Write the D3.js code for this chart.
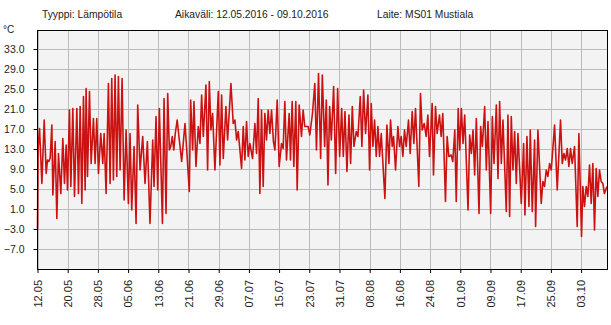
<!DOCTYPE html>
<html>
<head>
<meta charset="utf-8">
<script src="https://cdn.jsdelivr.net/npm/d3@7"></script>
<style>
  body { margin: 0; background: #fff; }
  svg { display: block; font-family: "Liberation Sans", Arial, sans-serif; }
</style>
</head>
<body>
<div id="chart"></div>
<script>
// Day offsets from 12.05.2016 00:00 and the temperature read at that moment
const dayOffsets = [
  0.0, 0.15, 0.54, 1.16, 1.77, 2.30, 2.65, 3.0, 3.36, 3.80, 4.07, 4.68, 5.12, 5.56, 6.18, 6.71, 7.15, 7.59, 7.94,
  8.47, 8.83, 9.36, 9.80, 10.42, 10.86, 11.30, 11.74, 12.18, 12.62, 12.88, 13.24, 13.77, 14.21, 14.82, 15.26, 15.70,
  16.15, 16.76, 17.29, 17.65, 18.17, 18.79, 19.23, 19.67, 20.11, 20.55, 21.0, 21.44, 21.88, 22.41, 22.94, 23.47,
  24.08, 24.52, 24.96, 25.58, 26.11, 26.55, 27.17, 27.87, 28.49, 29.11, 29.8, 30.52, 30.87, 31.40, 31.84,
  32.28, 33.1, 33.52, 34.05, 34.49, 34.93, 35.3, 35.7, 36.1, 36.5, 37.0, 38.19, 39.07, 39.51,
  40.21, 40.57, 41.10, 41.45, 41.98, 42.60, 43.04, 43.48, 43.92, 44.62, 45.06, 45.51, 45.95, 46.39, 47.0, 47.89,
  48.33, 48.77, 49.21, 49.91, 50.36, 51.24, 51.85, 52.30, 52.74, 53.18, 54.06, 54.50, 54.94, 55.38, 55.82,
  56.26, 56.97, 57.59, 58.03, 58.47, 58.91, 59.35, 59.79, 60.23, 60.67, 61.11, 61.56, 62.0, 62.5, 62.9, 63.50,
  64.02, 64.64, 65.08, 65.52, 65.96, 66.67, 67.02, 67.46, 67.90, 68.43, 68.79, 69.32, 69.93, 70.37, 70.81, 71.70,
  72.14, 72.84, 73.46, 73.90, 74.45, 75.01, 75.45, 76.07, 76.51, 76.95, 77.39, 77.83, 78.45, 78.98, 79.51,
  80.04, 80.57, 81.01, 81.45, 81.98, 82.51, 82.95, 83.39, 83.83, 84.45, 84.89, 85.50, 85.94, 86.39, 86.91, 87.53,
  87.97, 88.41, 88.85, 89.30, 89.74, 90.18, 90.62, 91.06, 92.03, 92.56, 93.09, 93.53, 93.97, 94.32, 94.85, 95.47,
  95.91, 96.35, 96.79, 97.23, 97.67, 98.29, 98.73, 99.26, 99.70, 100.14, 101.02, 101.46, 101.91, 102.44, 102.96,
  103.41, 103.85, 104.55, 104.90, 105.43, 105.87, 106.49, 106.93, 107.37, 108.08, 108.52, 108.96, 109.58, 110.02,
  110.55, 110.93, 111.45, 111.85, 112.29, 112.73, 113.17, 114.05, 114.49, 114.93, 115.37, 115.81, 116.25, 116.96,
  117.40, 117.84, 118.46, 118.90, 119.34, 120.05, 120.49, 120.93, 121.55, 121.99, 122.43, 122.87, 123.31, 124.19,
  124.63, 125.07, 125.51, 125.95, 126.40, 126.84, 127.28, 128.16, 128.78, 129.13, 129.66, 130.19, 130.54, 131.07,
  131.69, 131.95, 132.57, 133.45, 133.89, 134.33, 134.77, 135.21, 135.65, 136.10, 136.98, 137.68, 138.56, 139.01,
  139.45, 139.89, 140.33, 140.77, 141.21, 141.65, 142.27, 142.97, 143.42, 144.12, 144.47, 144.91, 145.36, 145.80,
  146.24, 146.68, 147.12, 147.56, 148.00, 148.44, 148.88, 149.32, 149.76, 150.20, 150.85
];

const temperatures = [
  -3.2, 13.0, 17.1, 6.1, 18.8, 8.1, 10.8, 10.5, 11.2, 17.8, 3.8, 14.5, -0.9, 12.1, 4.1, 15.1, 6.1, 13.8, 4.8,
  20.8, 5.5, 21.1, 3.5, 21.1, 4.1, 21.5, 2.1, 23.5, 4.8, 25.1, 7.5, 24.5, 10.1, 19.1, 10.1, 19.1,
  8.1, 16.1, 10.1, 16.1, 4.1, 26.1, 6.1, 27.1, 6.8, 27.8, 7.5, 27.5, 8.8, 27.1, 2.8, 16.8,
  2.1, 16.1, 0.8, 13.5, -1.9, 21.8, 8.8, 15.5, 6.1, 14.5, -1.9, 14.8, 5.5, 19.5, 4.8,
  21.1, -1.9, 23.1, 0.1, 24.1, 12.8, 13.5, 15.5, 12.8, 16.1, 18.8, 10.5, 18.1, 13.1,
  4.5, 22.8, 12.8, 22.5, 9.5, 17.5, 14.1, 23.8, 15.5, 25.8, 8.8, 26.5, 16.8, 20.1, 8.8, 24.5,
  9.8, 23.8, 11.1, 21.5, 14.8, 26.1, 18.1, 18.8, 14.8, 16.5, 9.1, 17.5, 10.8, 18.5, 11.5,
  14.1, 11.1, 18.1, 12.1, 23.1, 4.1, 20.8, 5.5, 20.1, 14.8, 20.8, 16.1, 20.8, 14.5, 12.8, 22.8,
  9.5, 14.1, 13.1, 22.5, 10.8, 20.1, 10.8, 22.5, 9.5, 22.5, 4.8, 21.8, 15.5, 20.8, 17.5, 17.5,
  15.8, 20.1, 26.1, 12.8, 28.1, 11.1, 27.8, 13.5, 22.8, 5.8, 21.5, 14.8, 25.5, 8.1, 25.1,
  11.5, 21.1, 11.5, 20.5, 8.5, 19.8, 10.1, 21.5, 13.5, 16.5, 15.5, 23.5, 13.5, 24.8, 16.1, 23.8,
  8.8, 22.1, 13.5, 18.8, 11.5, 17.5, 11.5, 16.1, 3.1, 17.8, 10.1, 18.8, 13.5, 15.5, 8.8, 17.5,
  13.5, 15.5, 11.5, 16.8, 13.5, 18.8, 12.1, 20.5, 14.1, 21.1, 5.5, 24.1, 16.8, 18.1, 15.5,
  19.8, 11.5, 22.1, 7.8, 21.5, 16.1, 19.8, 15.5, 20.1, 2.5, 15.5, 11.5, 11.8, 10.5,
  16.8, 2.5, 21.1, 12.8, 21.1, 14.1, 19.8, 0.8, 15.8, 12.1, 16.8, 7.8, 19.1, 0.1,
  17.5, 13.5, 21.5, 8.8, 18.5, 0.1, 19.5, 10.1, 21.8, 7.1, 22.5, 10.1, 18.8, 0.5,
  19.8, -0.5, 19.5, 8.8, 16.5, 6.1, 16.1, 2.1, 14.1, -0.2, 15.5, 1.5, 16.8, 0.5,
  14.8, -2.5, 16.8, 2.1, 6.5, 5.5, 8.8, 7.5, 10.1, 8.8, 17.8, 4.8, 18.8, 10.1,
  12.1, 10.8, 13.1, 9.5, 13.1, 10.1, 13.5, -2.5, 16.1, -4.5, 5.5, 1.5, 5.5, 3.5,
  9.8, 2.1, 10.1, -3.2, 9.1, 3.5, 8.8, 6.5, 6.1, 4.1, 5.5
];

const xTickLabels = ["12.05", "20.05", "28.05", "05.06", "13.06", "21.06", "29.06", "07.07", "15.07",
  "23.07", "31.07", "08.08", "16.08", "24.08", "01.09", "09.09", "17.09", "25.09", "03.10"];
const yTicks = [33, 29, 25, 21, 17, 13, 9, 5, 1, -3, -7];

const headerTexts = [
  { text: "Tyyppi: Lämpötila", x: 42 },
  { text: "Aikaväli: 12.05.2016 - 09.10.2016", x: 175 },
  { text: "Laite: MS01 Mustiala", x: 377 }
];

const width = 611;
const height = 325;
const margin = { top: 30, right: 3.5, bottom: 56, left: 37.5 };

const parseDay = d3.utcParse("%d.%m.%Y");
const startDate = parseDay("12.05.2016");
const endDate = parseDay("10.10.2016");

const points = dayOffsets.map((d, i) => ({
  date: new Date(startDate.getTime() + d * 864e5),
  temp: temperatures[i]
}));

const svg = d3.select("#chart")
  .append("svg")
  .attr("width", width)
  .attr("height", height);

const x = d3.scaleUtc()
  .domain([startDate, endDate])
  .range([margin.left, width - margin.right]);

const y = d3.scaleLinear()
  .domain([-11, 36.8])
  .range([height - margin.bottom, margin.top]);

const xTickDates = xTickLabels.map(l => parseDay(l + ".2016"));

// plot background
svg.append("rect")
  .attr("x", margin.left)
  .attr("y", margin.top)
  .attr("width", width - margin.left - margin.right)
  .attr("height", height - margin.top - margin.bottom)
  .attr("fill", "#f3f3f3");

// grid
const grid = svg.append("g").attr("stroke", "#bbbbbb").attr("stroke-width", 1);
grid.selectAll(".vgrid")
  .data(xTickDates)
  .join("line")
  .attr("x1", d => Math.round(x(d)) + 0.5)
  .attr("x2", d => Math.round(x(d)) + 0.5)
  .attr("y1", margin.top)
  .attr("y2", height - margin.bottom);
grid.selectAll(".hgrid")
  .data(yTicks)
  .join("line")
  .attr("x1", margin.left)
  .attr("x2", width - margin.right)
  .attr("y1", d => Math.round(y(d)) + 0.5)
  .attr("y2", d => Math.round(y(d)) + 0.5);

// temperature line
const line = d3.line()
  .x(d => x(d.date))
  .y(d => y(d.temp));

svg.append("path")
  .datum(points)
  .attr("fill", "none")
  .attr("stroke", "#cc1111")
  .attr("stroke-width", 1.6)
  .attr("stroke-linejoin", "round")
  .attr("d", line);

// frame
svg.append("rect")
  .attr("x", margin.left)
  .attr("y", margin.top + 0.5)
  .attr("width", width - margin.left - margin.right)
  .attr("height", height - margin.top - margin.bottom)
  .attr("fill", "none")
  .attr("stroke", "#000");

// axes
const xAxis = svg.append("g")
  .attr("transform", `translate(0, ${height - margin.bottom})`)
  .call(d3.axisBottom(x)
    .tickValues(xTickDates)
    .tickSize(4)
    .tickSizeOuter(0)
    .tickFormat(d3.utcFormat("%d.%m")));
xAxis.select(".domain").remove();
xAxis.selectAll("text")
  .attr("transform", "rotate(-90)")
  .attr("y", 0)
  .attr("x", -11)
  .attr("dy", "0.35em")
  .style("text-anchor", "end")
  .style("font-size", "11px")
  .attr("fill", "#222");

const yAxis = svg.append("g")
  .attr("transform", `translate(${margin.left}, 0)`)
  .call(d3.axisLeft(y)
    .tickValues(yTicks)
    .tickSize(4)
    .tickPadding(9)
    .tickSizeOuter(0)
    .tickFormat(d3.format(".1f")));
yAxis.select(".domain").remove();
yAxis.selectAll("text")
  .style("font-size", "10.5px")
  .attr("fill", "#222");

svg.append("text")
  .attr("x", 3)
  .attr("y", 33)
  .style("font-size", "10px")
  .attr("fill", "#222")
  .text("°C");

svg.selectAll(".header")
  .data(headerTexts)
  .join("text")
  .attr("x", d => d.x)
  .attr("y", 18)
  .style("font-size", "10.3px")
  .attr("fill", "#222")
  .text(d => d.text);
</script>
</body>
</html>
